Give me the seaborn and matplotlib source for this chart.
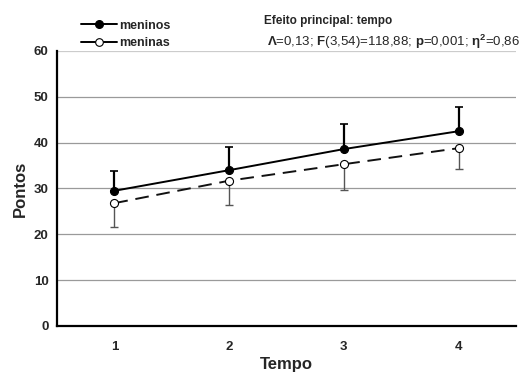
import matplotlib
matplotlib.use("Agg")
import matplotlib.pyplot as plt
import seaborn as sns
import numpy as np
import pandas as pd
from matplotlib.lines import Line2D

tempo = [1, 2, 3, 4]
meninos = [29.5, 34.0, 38.6, 42.5]
meninos_err = [4.3, 5.0, 5.5, 5.3]
meninas = [26.8, 31.7, 35.3, 38.8]
meninas_err = [5.1, 5.3, 5.6, 4.6]
y_ticks = [0, 10, 20, 30, 40, 50, 60]

sns.set_theme(style="white")
plt.rcParams['font.family'] = ['Liberation Sans', 'DejaVu Sans']
plt.rcParams['mathtext.fontset'] = 'custom'
plt.rcParams['mathtext.rm'] = 'Liberation Sans'
plt.rcParams['mathtext.bf'] = 'Liberation Sans:bold'
plt.rcParams['mathtext.it'] = 'Liberation Sans:italic'

fig = plt.figure(figsize=(5.19, 3.74), dpi=100)
ax = fig.add_axes([57/519, 48/374, (516-57)/519, (326-51)/374])

df_m = pd.DataFrame({"Tempo": tempo, "Pontos": meninos})
df_f = pd.DataFrame({"Tempo": tempo, "Pontos": meninas})

# gridlines
for yv in y_ticks[1:]:
    ax.axhline(yv, color="#cccccc" if yv == 60 else "#9a9a9a", lw=0.9, zorder=0)

ax.errorbar(tempo, meninos, yerr=[np.zeros(4), meninos_err], fmt='none',
            ecolor='black', elinewidth=1.6, capsize=3, capthick=1.2, zorder=2)
ax.errorbar(tempo, meninas, yerr=[meninas_err, np.zeros(4)], fmt='none',
            ecolor='#555555', elinewidth=1.0, capsize=3, capthick=1.0, zorder=2)

sns.lineplot(data=df_m, x="Tempo", y="Pontos", ax=ax, color="black", lw=1.4,
             marker='o', markersize=5.8, markerfacecolor='black',
             markeredgecolor='black', zorder=3)
sns.lineplot(data=df_f, x="Tempo", y="Pontos", ax=ax, color="#111111", lw=1.4,
             marker='o', markersize=5.8, markerfacecolor='white',
             markeredgecolor='black', markeredgewidth=0.8, zorder=3)
ax.lines[-1].set_dashes([7, 4])

ax.set_xlim(0.5, 4.5)
ax.set_ylim(0, 60)
ax.set_yticks(y_ticks)
ax.set_yticklabels([str(v) for v in y_ticks], fontsize=9.5, fontweight='bold')
ax.set_xticks(tempo)
ax.set_xticklabels([str(v) for v in tempo], fontsize=9.5, fontweight='bold')
ax.set_xticks([0.5, 1.5, 2.5, 3.5, 4.5], minor=True)
ax.tick_params(axis='x', which='major', length=0, pad=11)
ax.tick_params(axis='x', which='minor', length=4, width=1.2, direction='out', color='black')
ax.tick_params(axis='y', which='major', length=4, width=1.2, direction='out', color='black', pad=2)

for s in ['top', 'right']:
    ax.spines[s].set_visible(False)
for s in ['left', 'bottom']:
    ax.spines[s].set_color('black')
    ax.spines[s].set_linewidth(1.6)

ax.set_xlabel("Tempo", fontsize=12, fontweight='bold', labelpad=3)
ax.set_ylabel("Pontos", fontsize=12, fontweight='bold', labelpad=4)

handles = [
    Line2D([], [], color='black', lw=1.4, marker='o', markersize=5.5,
           markerfacecolor='black', markeredgecolor='black'),
    Line2D([], [], color='black', lw=1.4, marker='o', markersize=5.5,
           markerfacecolor='white', markeredgecolor='black', markeredgewidth=0.8),
]
fig.legend(handles, ["meninos", "meninas"], loc='upper left',
           bbox_to_anchor=(72/519, 1 - 11/374), frameon=False,
           prop={'size': 9, 'weight': 'bold'}, handlelength=2.9,
           handletextpad=0.2, labelspacing=0.45, borderpad=0.2)

fig.text(264/519, 1 - 21/374, "Efeito principal: tempo", fontsize=8.5,
         fontweight='bold', va='center', ha='left')
fig.text(267/519, 1 - 42/374,
         r"$\mathbf{\Lambda}$=0,13; $\mathbf{F}$(3,54)=118,88; $\mathbf{p}$=0,001; $\mathbf{\eta^2}$=0,86",
         fontsize=9.5, va='center', ha='left')

fig.savefig("out.png", dpi=100)
